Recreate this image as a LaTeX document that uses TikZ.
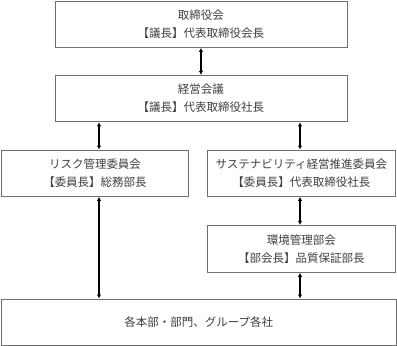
\documentclass[tikz,border=0pt]{standalone}
\usepackage{fontspec}
\newfontfamily\jpfont{Noto Sans CJK JP}
\definecolor{boxGray}{RGB}{112, 112, 112}
\definecolor{textGray}{RGB}{64, 64, 64}
\usetikzlibrary{arrows.meta, positioning}

\begin{document}
\begin{tikzpicture}[x=1pt, y=1pt,
  org/.style={rectangle, draw=boxGray, line width=0.9pt, fill=white,
              inner sep=0pt, anchor=north west, align=center,
              text=textGray, font=\jpfont\fontsize{11.5}{18}\selectfont},
  arrow/.style={{Latex[length=4pt,width=4.5pt]}-{Latex[length=4pt,width=4.5pt]}, line width=1.2pt},
]
  \useasboundingbox (0,0) rectangle (397,-346);

  \node[org, minimum width=292pt, minimum height=46.5pt] (board) at (54.5,-0.5)
    {取締役会\\【議長】代表取締役会長};
  \node[org, minimum width=292pt, minimum height=46.5pt, below=27pt of board] (mgmt)
    {経営会議\\【議長】代表取締役社長};

  \node[org, minimum width=187.5pt, minimum height=46.5pt] (risk) at (0.8,-149.5)
    {リスク管理委員会\\【委員長】総務部長};
  \node[org, minimum width=188pt, minimum height=46.5pt] (sust) at (207,-149.5)
    {サステナビリティ経営推進委員会\\【委員長】代表取締役社長};
  \node[org, minimum width=188pt, minimum height=47pt, below=28pt of sust] (env)
    {環境管理部会\\【部会長】品質保証部長};

  \node[org, minimum width=395pt, minimum height=46.5pt] (units) at (0.8,-298.5)
    {各本部・部門、グループ各社};

  % lines of the connectors
  \coordinate (lx) at (99,0);
  \coordinate (rx) at (300,0);

  \draw[arrow] (board) -- (mgmt);
  \draw[arrow] (mgmt.south -| lx) -- (risk.north -| lx);
  \draw[arrow] (mgmt.south -| rx) -- (sust.north -| rx);
  \draw[arrow] (sust.south -| rx) -- (env.north -| rx);
  \draw[arrow] (risk.south -| lx) -- (units.north -| lx);
  \draw[arrow] (env.south -| rx) -- (units.north -| rx);
\end{tikzpicture}
\end{document}
